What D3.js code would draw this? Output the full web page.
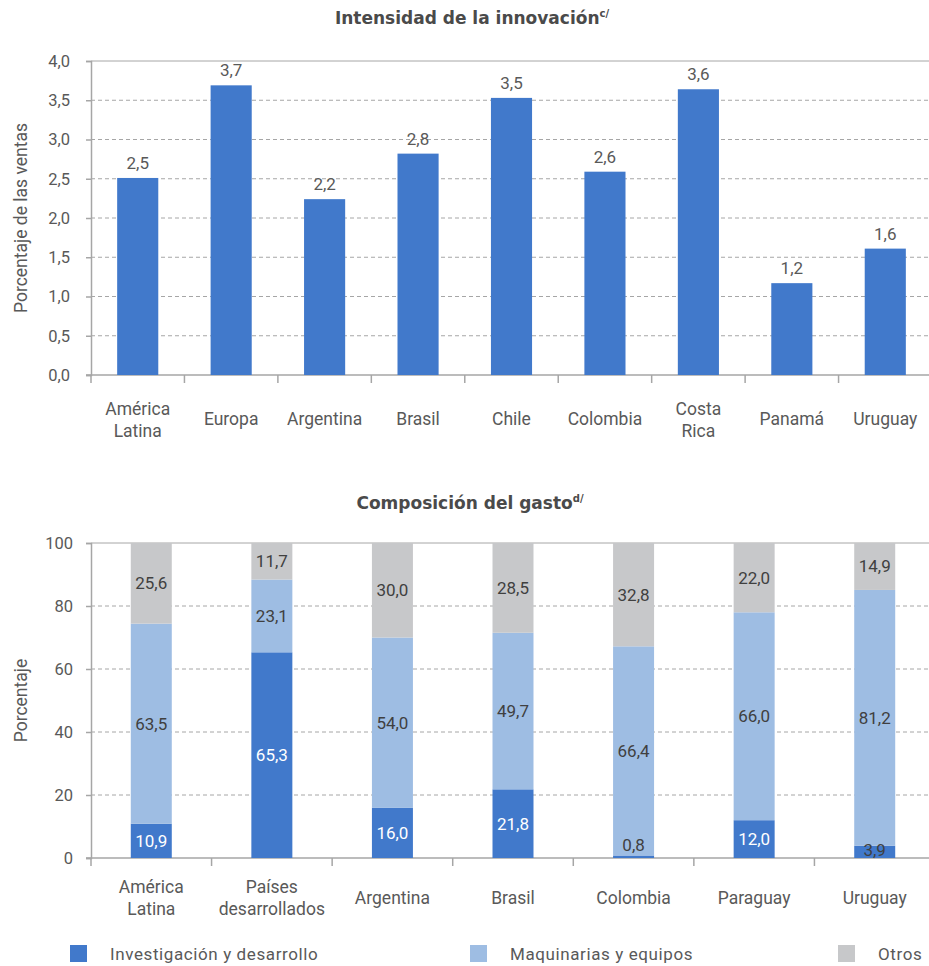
<!DOCTYPE html>
<html>
<head>
<meta charset="utf-8">
<script src="https://cdn.jsdelivr.net/npm/d3@7"></script>
<style>
  html, body { margin: 0; padding: 0; background: #fff; }
  svg { display: block; }
  text { font-family: Roboto, "Open Sans", sans-serif; }
</style>
</head>
<body>
<svg id="chart" width="929" height="966"></svg>
<script>
// ---------- DATA ----------
const topTitle = "Intensidad de la innovación";
const topTitleNote = "c/";
const topCategories = [["América", "Latina"], ["Europa"], ["Argentina"], ["Brasil"], ["Chile"], ["Colombia"], ["Costa", "Rica"], ["Panamá"], ["Uruguay"]];
const topValues = [2.51, 3.69, 2.24, 2.82, 3.53, 2.59, 3.64, 1.17, 1.61];
const topTicks = [0, 0.5, 1, 1.5, 2, 2.5, 3, 3.5, 4];
const topYLabel = "Porcentaje de las ventas";

const bottomTitle = "Composición del gasto";
const bottomTitleNote = "d/";
const bottomCategories = [["América", "Latina"], ["Países", "desarrollados"], ["Argentina"], ["Brasil"], ["Colombia"], ["Paraguay"], ["Uruguay"]];
const seriesNames = ["Investigación y desarrollo", "Maquinarias y equipos", "Otros"];
const serieID = [10.9, 65.3, 16.0, 21.8, 0.8, 12.0, 3.9];
const serieMaq = [63.5, 23.1, 54.0, 49.7, 66.4, 66.0, 81.2];
const serieOtros = [25.6, 11.7, 30.0, 28.5, 32.8, 22.0, 14.9];
const bottomTicks = [0, 20, 40, 60, 80, 100];
const bottomYLabel = "Porcentaje";

// ---------- STYLE ----------
const cBlue = "#4179cb", cLight = "#9ebde3", cGrey = "#c7c8ca";
const axisColor = "#a6a6a6";
const textColor = "#595959";
const fmt = v => d3.format(".1f")(v).replace(".", ",");

const svg = d3.select("#chart");

function drawAxes(g, x, y, ticks, tickFmt, labelX) {
  g.selectAll(".grid").data(ticks.filter(t => t !== ticks[0])).join("line")
    .attr("x1", x.range()[0]).attr("x2", x.range()[1])
    .attr("y1", d => y(d)).attr("y2", d => y(d))
    .attr("stroke", axisColor).attr("stroke-width", 1)
    .attr("stroke-dasharray", d => d === ticks[ticks.length - 1] ? null : "4,3");
  const ya = d3.axisLeft(y).tickValues(ticks).tickSize(5).tickFormat(tickFmt);
  const yg = g.append("g").attr("transform", `translate(${x.range()[0]},0)`).call(ya);
  yg.select(".domain").attr("stroke", axisColor).attr("stroke-width", 1.5);
  yg.selectAll(".tick line").attr("stroke", axisColor).attr("stroke-width", 1.5);
  yg.selectAll(".tick text").attr("x", labelX - x.range()[0])
    .style("fill", textColor).style("font-size", "16.5px").style("font-family", "Roboto, sans-serif");
  g.append("line").attr("x1", x.range()[0] - 5).attr("x2", x.range()[1])
    .attr("y1", y(ticks[0])).attr("y2", y(ticks[0]))
    .attr("stroke", axisColor).attr("stroke-width", 1.5);
  const b = x.domain().map((d, i) => x.range()[0] + i * x.step());
  g.selectAll(".xtick").data(b).join("line")
    .attr("x1", d => d).attr("x2", d => d)
    .attr("y1", y(ticks[0])).attr("y2", y(ticks[0]) + 8)
    .attr("stroke", axisColor).attr("stroke-width", 1.5);
}

function drawTitle(text, note, cx, cy) {
  const t = svg.append("text").attr("x", cx).attr("y", cy).attr("text-anchor", "middle")
    .style("font-family", "'DejaVu Sans', sans-serif")
    .style("font-size", "17px").style("font-weight", "bold").style("fill", "#4a4a4a");
  t.append("tspan").text(text);
  t.append("tspan").text(note).attr("dy", -7).style("font-size", "10px");
}

// ---------- TOP CHART ----------
{
  const g = svg.append("g");
  const x = d3.scaleBand().domain(topCategories.map((d, i) => i)).range([91, 932]).paddingInner(0.56).paddingOuter(0.28);
  const y = d3.scaleLinear().domain([0, 4]).range([375, 61]);
  drawAxes(g, x, y, topTicks, d => fmt(d), 70);

  g.selectAll(".bar").data(topValues).join("rect")
    .attr("x", (d, i) => x(i)).attr("width", x.bandwidth())
    .attr("y", d => y(d)).attr("height", d => y(0) - y(d))
    .attr("fill", cBlue);

  g.selectAll(".vlab").data(topValues).join("text")
    .attr("x", (d, i) => x(i) + x.bandwidth() / 2).attr("y", d => y(d) - 9)
    .attr("text-anchor", "middle").style("font-size", "17px").style("fill", textColor)
    .text(d => fmt(d));

  const cl = g.selectAll(".clab").data(topCategories).join("text")
    .attr("text-anchor", "middle").style("font-size", "17.5px").style("fill", textColor)
    .attr("x", (d, i) => x(i) + x.bandwidth() / 2)
    .attr("y", d => d.length > 1 ? 415 : 425);
  cl.selectAll("tspan").data(d => d).join("tspan")
    .attr("x", function() { return this.parentNode.getAttribute("x"); })
    .attr("dy", (d, i) => i === 0 ? 0 : 22).text(d => d);

  svg.append("text").attr("transform", `translate(27,${(61 + 375) / 2}) rotate(-90)`)
    .attr("text-anchor", "middle").style("font-size", "17.5px").style("fill", textColor).text(topYLabel);

  drawTitle(topTitle, topTitleNote, 472, 24);
}

// ---------- BOTTOM CHART ----------
{
  const g = svg.append("g");
  const x = d3.scaleBand().domain(bottomCategories.map((d, i) => i)).range([91, 935]).paddingInner(0.66).paddingOuter(0.33);
  const y = d3.scaleLinear().domain([0, 100]).range([858, 543]);
  drawAxes(g, x, y, bottomTicks, d => d, 73);

  const rows = bottomCategories.map((c, i) => ({ i, id: serieID[i], maq: serieMaq[i], otros: serieOtros[i] }));
  const stack = d3.stack().keys(["id", "maq", "otros"]);
  const layers = stack(rows);
  const colors = [cBlue, cLight, cGrey];

  layers.forEach((layer, li) => {
    g.selectAll(".seg" + li).data(layer).join("rect")
      .attr("x", d => x(d.data.i)).attr("width", x.bandwidth())
      .attr("y", d => y(Math.min(d[1], 100))).attr("height", d => y(d[0]) - y(Math.min(d[1], 100)))
      .attr("fill", colors[li]);
  });

  layers.forEach((layer, li) => {
    g.selectAll(".lab" + li).data(layer).join("text")
      .attr("x", d => x(d.data.i) + x.bandwidth() / 2)
      .attr("y", d => {
        const h = y(d[0]) - y(d[1]);
        let cy = (y(d[0]) + y(Math.min(d[1], 100))) / 2;
        if (h < 8) cy = y(d[1]) - 10;
        return Math.min(cy, 850);
      })
      .attr("dy", "0.35em").attr("text-anchor", "middle").style("font-size", "17px")
      .style("fill", d => (li === 0 && (d[1] - d[0]) >= 5) ? "#ffffff" : "#404040")
      .text(d => fmt(d[1] - d[0]));
  });

  const cl = g.selectAll(".clab").data(bottomCategories).join("text")
    .attr("text-anchor", "middle").style("font-size", "17.5px").style("fill", textColor)
    .attr("x", (d, i) => x(i) + x.bandwidth() / 2)
    .attr("y", d => d.length > 1 ? 893 : 904);
  cl.selectAll("tspan").data(d => d).join("tspan")
    .attr("x", function() { return this.parentNode.getAttribute("x"); })
    .attr("dy", (d, i) => i === 0 ? 0 : 22).text(d => d);

  svg.append("text").attr("transform", `translate(27,${(543 + 858) / 2}) rotate(-90)`)
    .attr("text-anchor", "middle").style("font-size", "17.5px").style("fill", textColor).text(bottomYLabel);

  drawTitle(bottomTitle, bottomTitleNote, 470, 509);

  const legX = [70, 470, 838];
  const lg = svg.append("g");
  seriesNames.forEach((n, i) => {
    lg.append("rect").attr("x", legX[i]).attr("y", 945).attr("width", 17).attr("height", 17).attr("fill", colors[i]);
    lg.append("text").attr("x", legX[i] + 40).attr("y", 960).style("font-size", "17px")
      .style("letter-spacing", "0.6px").style("fill", textColor).text(n);
  });
}
</script>
</body>
</html>
